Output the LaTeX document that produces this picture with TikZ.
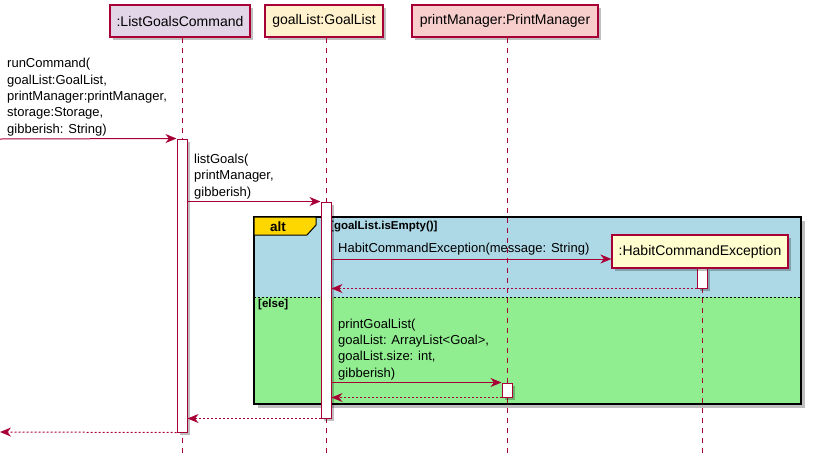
\documentclass[tikz,border=0pt]{standalone}
\usepackage{fontspec}
\setmainfont{Liberation Sans}
\usepackage{xcolor}
\usepackage{tikz}
\usetikzlibrary{arrows.meta,positioning,shadows}

\definecolor{umlred}{HTML}{A80036}
\definecolor{lgcfill}{HTML}{E1D5E7}
\definecolor{glfill}{HTML}{FFF2CC}
\definecolor{pmfill}{HTML}{F8CECC}
\definecolor{hcefill}{HTML}{FEFECE}
\definecolor{altblue}{HTML}{ADD8E6}
\definecolor{altgreen}{HTML}{90EE90}
\definecolor{tabgold}{HTML}{FFD700}

\begin{document}
\begin{tikzpicture}[
      x=1pt, y=-1pt,
      shade/.style={drop shadow={shadow xshift=3pt, shadow yshift=-3pt, fill=black, opacity=0.25}},
      party/.style={draw=umlred, line width=1.2pt, minimum height=32pt, inner sep=0pt, font=\fontsize{14}{16}\selectfont, shade},
      actbar/.style={draw=umlred, line width=1pt, fill=white, minimum width=10pt, inner sep=0pt, shade},
      life/.style={umlred, line width=0.9pt, dash pattern=on 5pt off 5pt},
      msg/.style={-{Stealth[length=11pt, width=9pt, inset=3.5pt]}, umlred, line width=1pt},
      ret/.style={msg, dash pattern=on 2pt off 2pt},
      lbl/.style={align=left, inner sep=0pt, font=\fontsize{13}{16.3}\selectfont},
      guard/.style={inner sep=0pt, font=\fontsize{11.5}{13}\bfseries},
    ]
    \useasboundingbox (0,0) rectangle (814,456);

    % alt frame
    \fill[black, opacity=0.25] (258,221) rectangle (805,408);
    \fill[altblue] (254,217) rectangle (801,297);
    \fill[altgreen] (254,297) rectangle (801,404);
    \draw[black, dash pattern=on 2pt off 2pt, line width=0.8pt] (254,297) -- (801,297);
    \draw[black, line width=1.5pt] (254,217) rectangle (801,404);
    \draw[black, line width=1pt, fill=tabgold] (254,217) -- (316,217) -- (316,225) -- (307,235) -- (254,235) -- cycle;
    \node[font=\fontsize{13.5}{16}\bfseries] (alttag) at (278,226.5) {alt};
    \node[guard, anchor=west] (g1) at (330,227) {[goalList.isEmpty()]};
    \node[guard, anchor=west] (g2) at (258,305) {[else]};

    % participants
    \node[party, fill=lgcfill, minimum width=140pt] (lgc) at (180,21) {:ListGoalsCommand};
    \node[party, fill=glfill, minimum width=118pt] (gl) at (324,21) {goalList:GoalList};
    \node[party, fill=pmfill, minimum width=186pt] (pm) at (505,21) {printManager:PrintManager};

    \coordinate (lgcE) at (182,456);
    \coordinate (glE) at (326,456);
    \coordinate (pmE) at (507,456);
    \coordinate (hceE) at (702,456);
    \draw[life] (lgc.south -| lgcE) -- (lgcE);
    \draw[life] (gl.south -| glE) -- (glE);
    \draw[life] (pm.south -| pmE) -- (pmE);
    \draw[life] (702,268) -- (hceE);

    % activations
    \node[actbar, minimum height=293pt] (lgcA) at (182,285.5) {};
    \node[actbar, minimum height=216pt] (glA) at (326,310) {};
    \node[actbar, minimum height=14pt] (pmA) at (507,390) {};
    \node[actbar, minimum height=20pt] (hceA) at (702,278) {};
    \node[party, fill=hcefill, minimum width=176pt, minimum height=33pt] (hce) at (700,251.5) {:HabitCommandException};

    % messages
    \coordinate (entry) at (0,139);
    \coordinate (exit) at (0,432);
    \node[lbl, anchor=south west] (m1) at (7,136) {runCommand(\\goalList:GoalList,\\printManager:printManager,\\storage:Storage,\\gibberish: String)};
    \draw[msg] (entry) -- (lgcA.north west);
    \node[lbl, anchor=south west] (m2) at (194,199) {listGoals(\\printManager,\\gibberish)};
    \draw[msg] (lgcA.east |- glA.north) -- (glA.north west);
    \node[lbl, anchor=south west] (m3) at (338,255) {HabitCommandException(message: String)};
    \draw[msg] (glA.east |- 0,259) -- (hce.west |- 0,259);
    \draw[ret] (hceA.south west) -- (glA.east |- hceA.south);
    \node[lbl, anchor=south west] (m4) at (338,380) {printGoalList(\\goalList: ArrayList<Goal>,\\goalList.size: int,\\gibberish)};
    \draw[msg] (glA.east |- pmA.north) -- (pmA.north west);
    \draw[ret] (pmA.south west) -- (glA.east |- pmA.south);
    \draw[ret] (glA.south west) -- (lgcA.east |- glA.south);
    \draw[ret] (lgcA.south west) -- (exit);
  \end{tikzpicture}
\end{document}
